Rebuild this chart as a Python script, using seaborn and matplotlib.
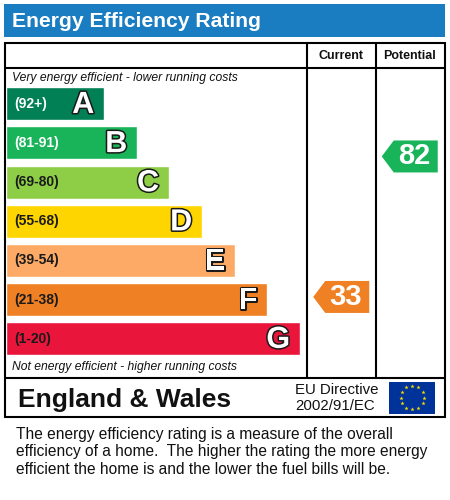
import matplotlib
matplotlib.use("Agg")
import matplotlib.pyplot as plt
import matplotlib.patheffects as pe
from matplotlib.patches import Rectangle
from matplotlib.path import Path
import numpy as np
import seaborn as sns

# chart data
bands = ["A", "B", "C", "D", "E", "F", "G"]
band_ranges = ["(92+)", "(81-91)", "(69-80)", "(55-68)", "(39-54)", "(21-38)", "(1-20)"]
band_min = [92, 81, 69, 55, 39, 21, 1]
bar_lengths = [32.7, 43.7, 54.3, 65.3, 76.3, 87.0, 98.0]
band_colors = ["#008054", "#19b459", "#8dce46", "#ffd500", "#fcaa65", "#ef8023", "#e9153b"]
range_text_colors = ["white", "white", "#1a1a1a", "#1a1a1a", "#1a1a1a", "#1a1a1a", "#1a1a1a"]
columns = ["Current", "Potential"]
ratings = [33, 82]

footer_lines = [
    "The energy efficiency rating is a measure of the overall",
    "efficiency of a home.  The higher the rating the more energy",
    "efficient the home is and the lower the fuel bills will be.",
]

sns.set_theme(style="white")
plt.rcParams["font.family"] = ["Liberation Sans", "DejaVu Sans"]

fig = plt.figure(figsize=(4.5, 5), dpi=100)
fig.patch.set_facecolor("white")

# background axes in pixel units for the frame and text
bg = fig.add_axes([0, 0, 1, 1])
bg.set_xlim(0, 450)
bg.set_ylim(500, 0)
bg.axis("off")

blue = "#1a7dc2"
bg.add_patch(Rectangle((4, 4), 441, 33.3, color=blue, lw=0))
bg.text(12.5, 21.5, "Energy Efficiency Rating", color="white", fontsize=15.2,
        fontweight="bold", ha="left", va="center")

lw = 1.5
bg.add_patch(Rectangle((5, 42.7), 439.5, 374, fill=False, lw=lw, ec="black"))
bg.plot([5, 444.5], [68, 68], color="black", lw=lw)
bg.plot([5, 444.5], [378, 378], color="black", lw=lw)
for xv in (307, 376):
    bg.plot([xv, xv], [42.7, 378], color="black", lw=lw)

bg.text(341, 56, columns[0], fontsize=9, fontweight="bold", ha="center", va="center", color="#111")
bg.text(409.5, 56, columns[1], fontsize=9, fontweight="bold", ha="center", va="center", color="#111")

bg.text(12.5, 77.5, "Very energy efficient - lower running costs", fontsize=8.7,
        style="italic", ha="left", va="center", color="#111")
bg.text(12.5, 367, "Not energy efficient - higher running costs", fontsize=8.7,
        style="italic", ha="left", va="center", color="#111")

bg.text(18, 399.5, "England & Wales", fontsize=19, fontweight="bold", ha="left", va="center", color="#111")
bg.text(295, 390, "EU Directive", fontsize=10.8, ha="left", va="center", color="#111")
bg.text(295, 406.5, "2002/91/EC", fontsize=10.8, ha="left", va="center", color="#111")

# EU flag
bg.add_patch(Rectangle((389, 381.7), 46, 32, color="#003399", lw=0))
ang = np.linspace(0, 2 * np.pi, 13)[:-1]
bg.scatter(412.3 + 11.8 * np.cos(ang), 397.5 + 11.8 * np.sin(ang), marker="*",
           s=10, color="#ffdd00", lw=0)

for i, line in enumerate(footer_lines):
    bg.text(16, 434 + i * 17.7, line, fontsize=11.2, ha="left", va="center", color="#111")

# rating bands
band_ax = fig.add_axes([6 / 450, 1 - 358.3 / 500, 300 / 450, 274.1 / 500])
sns.barplot(x=bar_lengths, y=bands, hue=bands, palette=band_colors, orient="h",
            width=0.846, saturation=1, legend=False, ax=band_ax)
band_ax.set_xlim(0, 100)
band_ax.set_ylim(6.5, -0.5)
band_ax.axis("off")
band_ax.patch.set_alpha(0)

for i, (letter, rng, length) in enumerate(zip(bands, band_ranges, bar_lengths)):
    band_ax.text(2.6, i, rng, fontsize=10, fontweight="bold", ha="left", va="center",
                 color=range_text_colors[i])
    band_ax.text(length - 3.3, i + 0.03, letter, fontsize=22, fontweight="bold",
                 ha="right", va="center", color="white",
                 path_effects=[pe.withStroke(linewidth=2.2, foreground="#1a1a1a")])

# arrows for current / potential ratings
arrow_path = Path([(-28, 0), (-16, 16), (28, 16), (28, -16), (-16, -16), (-28, 0)],
                  [Path.MOVETO, Path.LINETO, Path.LINETO, Path.LINETO, Path.LINETO, Path.CLOSEPOLY])


def band_of(rating):
    for b, m in zip(bands, band_min):
        if rating >= m:
            return b
    return bands[-1]


rating_bands = [band_of(r) for r in ratings]
arrow_ax = fig.add_axes([307 / 450, 1 - 358.3 / 500, 137 / 450, 274.1 / 500])
sns.scatterplot(x=[0, 1], y=ratings, hue=rating_bands,
                palette=dict(zip(bands, band_colors)), marker=arrow_path,
                s=1625, linewidth=0, edgecolor="none", legend=False, ax=arrow_ax)
arrow_ax.set_xlim(-0.5, 1.5)
arrow_ax.set_ylim(11.6, 107.2)
arrow_ax.axis("off")
arrow_ax.patch.set_alpha(0)
for xi, r in enumerate(ratings):
    arrow_ax.annotate(str(r), (xi, r), xytext=(3, 0), textcoords="offset points",
                      fontsize=21, fontweight="bold", color="white", ha="center", va="center")

fig.savefig("out.png", dpi=100)
